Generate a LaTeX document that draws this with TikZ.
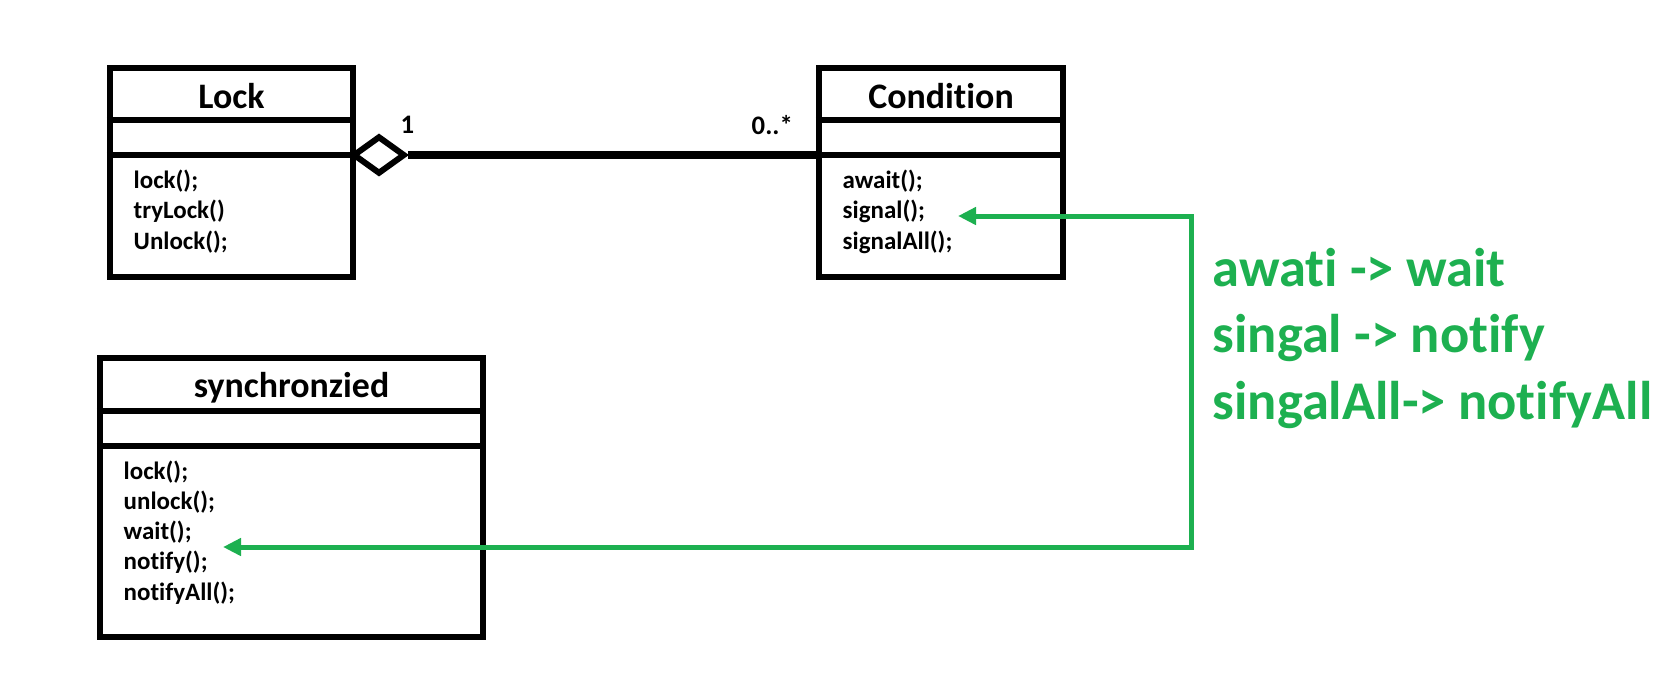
\documentclass[tikz,border=0pt]{standalone}
\usepackage{fontspec}
\setmainfont{Carlito}[Ligatures=NoCommon]
\usetikzlibrary{arrows.meta,shapes.geometric}
\definecolor{mapgreen}{HTML}{1DB050}
\tikzstyle{box}=[draw, line width=0.06cm, inner sep=0]
\tikzstyle{sep}=[line width=0.06cm]
\tikzstyle{title}=[font=\bfseries\fontsize{10.2}{12}\selectfont, anchor=base, inner sep=0]
\tikzstyle{methods}=[font=\bfseries\fontsize{7.1}{8.54}\selectfont, align=left, anchor=base west, inner sep=0]
\tikzstyle{mult}=[font=\bfseries\fontsize{7.6}{9}\selectfont, anchor=base west, inner sep=0]
\tikzstyle{link}=[draw=mapgreen, line width=0.05cm]

\begin{document}
\begin{tikzpicture}[x=0.01cm, y=-0.01cm]
            \useasboundingbox (0,0) rectangle (1670,696);
            \node [box, minimum width=2.43cm, minimum height=2.09cm] (Lock) at (231.5,172.5) {};
            \node [box, minimum width=2.44cm, minimum height=2.09cm] (Cond) at (941,172.5) {};
            \node [box, minimum width=3.83cm, minimum height=2.79cm] (Sync) at (291.5,497.5) {};
            \draw [sep] (Lock.west |- 0,120) -- (Lock.east |- 0,120);
            \draw [sep] (Lock.west |- 0,155) -- (Lock.east |- 0,155);
            \draw [sep] (Cond.west |- 0,120) -- (Cond.east |- 0,120);
            \draw [sep] (Cond.west |- 0,155) -- (Cond.east |- 0,155);
            \draw [sep] (Sync.west |- 0,411) -- (Sync.east |- 0,411);
            \draw [sep] (Sync.west |- 0,446) -- (Sync.east |- 0,446);
            \node [title] (LockT) at (231.5,108) {Lock};
            \node [title] (CondT) at (941,108) {Condition};
            \node [title] (SyncT) at (291.5,397) {synchronzied};
            \node [methods] (LockM) at (133,249) {lock();\\tryLock()\\Unlock();};
            \node [methods] (CondM) at (842,249) {await();\\signal();\\signalAll();};
            \node [methods] (SyncM) at (123,600) {lock();\\unlock();\\wait();\\notify();\\notifyAll();};
            \node [draw, diamond, line width=0.06cm, minimum width=0.52cm, minimum height=0.38cm, inner sep=0] (agg) at (379,155) {};
            \draw [line width=0.08cm] (agg.east) -- (agg -| Cond.west);
            \node [mult] (one) at (400,133) {1};
            \node [mult] (many) at (751,134) {0..*};
            \coordinate (sigEnd) at (958,216);
            \coordinate (turn) at (1191,216);
            \coordinate (waitEnd) at (223,547);
            \draw [link, {Triangle[length=0.18cm,width=0.17cm]}-{Triangle[length=0.18cm,width=0.17cm]}] (sigEnd) -- (turn) |- (waitEnd);
            \node [font=\bfseries\fontsize{15.5}{18.8}\selectfont, text=mapgreen, align=left, anchor=base west, inner sep=0] (rename) at (1212,419) {awati -> wait\\singal -> notify\\singalAll-> notifyAll};
        \end{tikzpicture}
\end{document}
